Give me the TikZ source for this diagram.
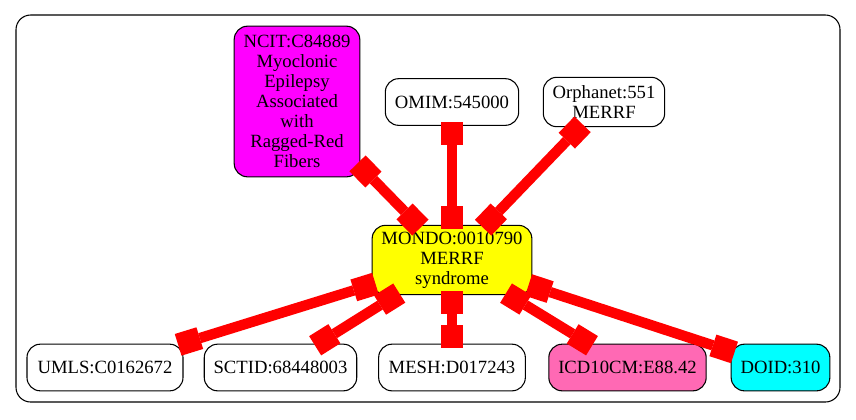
\documentclass[tikz,border=0pt]{standalone}
\usepackage{fontspec}
\setmainfont{Liberation Serif}
\usepackage{xcolor}
\usetikzlibrary{
    arrows.meta,
    positioning
}
\definecolor{hotpink}{HTML}{FF69B4}
\definecolor{pureyellow}{HTML}{FFFF00}
\definecolor{puremagenta}{HTML}{FF00FF}
\definecolor{purecyan}{HTML}{00FFFF}
\definecolor{purered}{HTML}{FF0000}

\begin{document}
\begin{tikzpicture}[
    x=0.75pt, y=-0.75pt,
    term/.style={
        rectangle,
        draw,
        rounded corners=10pt,
        align=center,
        font=\fontsize{14}{15}\selectfont,
        minimum height=35pt,
        inner xsep=7pt,
        inner ysep=2pt,
        line width=0.8pt,
        fill=white
    },
    link/.style={
        line width=7.8pt,
        purered,
        {Square[length=17pt,width=17pt,line width=0pt]}-{Square[length=17pt,width=17pt,line width=0pt]},
        shorten <=-3pt,
        shorten >=-3pt
    }
]
\useasboundingbox (0,0) rectangle (856,419);

% ============================================================
% MARCO
% ============================================================
\draw[rounded corners=11pt, line width=0.8pt] (16,15) rectangle (840,402);

% ============================================================
% NODES
% ============================================================

% Centre
\node[term, fill=pureyellow, minimum width=118pt, minimum height=52pt] (mondo) at (452, 260) {MONDO:0010790\\MERRF\\syndrome};

% Top row
\node[term, fill=puremagenta, minimum width=94pt, minimum height=113pt] (ncit) at (297, 101.5)
    {NCIT:C84889\\Myoclonic\\Epilepsy\\Associated\\with\\Ragged-Red\\Fibers};
\node[term, minimum width=100pt] (omim) at (452, 102) {OMIM:545000};
\node[term, minimum width=91pt, minimum height=37pt] (orpha) at (604, 102) {Orphanet:551\\MERRF};

% Bottom row
\node[term, minimum width=117pt] (umls) at (105, 367.5) {UMLS:C0162672};
\node[term, minimum width=113pt] (sctid) at (280.5, 367.5) {SCTID:68448003};
\node[term, minimum width=110pt] (mesh) at (452, 367.5) {MESH:D017243};
\node[term, fill=hotpink, minimum width=118pt] (icd) at (627.5, 367.5) {ICD10CM:E88.42};
\node[term, fill=purecyan, minimum width=74pt] (doid) at (780.5, 367.5) {DOID:310};

% ============================================================
% EDGES
% ============================================================
\draw[link] (ncit) -- (mondo);
\draw[link] (omim) -- (mondo);
\draw[link] (orpha) -- (mondo);

\draw[link] (mondo) -- (umls);
\draw[link] (mondo) -- (sctid);
\draw[link] (mondo) -- (mesh);
\draw[link] (mondo) -- (icd);
\draw[link] (mondo) -- (doid);

\end{tikzpicture}
\end{document}
